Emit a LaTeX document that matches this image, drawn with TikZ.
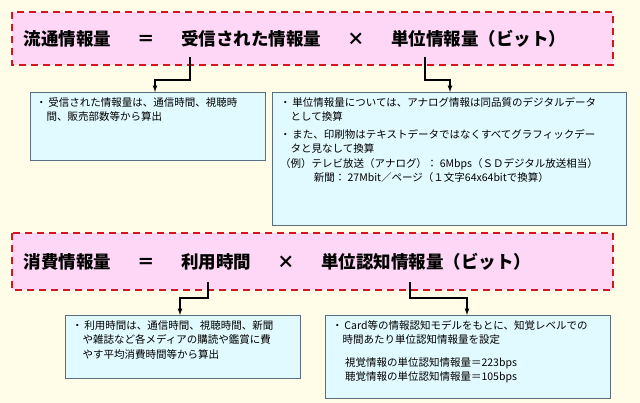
\documentclass[tikz,border=0pt]{standalone}
\usepackage{fontspec}
\newfontfamily\jp{Noto Sans CJK JP}
\definecolor{paper}{RGB}{255,253,232}
\definecolor{formfill}{RGB}{253,215,245}
\definecolor{formline}{RGB}{215,20,30}
\definecolor{notefill}{RGB}{225,250,255}
\definecolor{noteline}{RGB}{90,110,130}
\tikzset{
  formula/.style={draw=formline, fill=formfill, line width=2pt, dash pattern=on 7pt off 5pt},
  note/.style={draw=noteline, fill=notefill, line width=0.7pt},
  ftext/.style={anchor=west, font=\jp\bfseries\fontsize{17.5}{19}\selectfont},
  ntext/.style={anchor=north west, align=left, inner sep=0pt, font=\jp\fontsize{10.5}{14.5}\selectfont},
  link/.style={-latex, line width=1.2pt}
}
\begin{document}
\begin{tikzpicture}[x=1pt, y=-1pt]
  \useasboundingbox (0, 0) rectangle (640, 403);
  \fill[paper] (0, 0) rectangle (640, 403);

  % first formula
  \draw[formula] (12, 12) rectangle (613, 65);
  \node[ftext] (flow) at (20, 39) {流通情報量\quad\enspace ＝\quad\enspace 受信された情報量\quad\enspace ×\quad\enspace 単位情報量（ビット）};
  \draw[note] (30, 92) rectangle (265, 160);
  \node[ntext] (recv) at (36, 97) {・\,受信された情報量は、通信時間、視聴時\\\quad 間、販売部数等から算出};
  \draw[note] (272, 92) rectangle (626, 225);
  \node[ntext] (unit) at (280, 97) {・\,単位情報量については、アナログ情報は同品質のデジタルデータ\\\quad として換算\\[3pt]
    ・\,また、印刷物はテキストデータではなくすべてグラフィックデー\\\quad タと見なして換算\\
    （例）テレビ放送（アナログ）： 6Mbps（ＳＤデジタル放送相当）\\\hspace{3.2em}新聞： 27Mbit／ページ（１文字64x64bitで換算）};
  \coordinate (f1) at (190, 57);
  \coordinate (f2) at (425, 57);
  \draw[link] (f1) |- (155, 80) -- (155, 92);
  \draw[link] (f2) |- (450, 80) -- (450, 92);

  % second formula
  \draw[formula] (12, 233) rectangle (613, 290);
  \node[ftext] (use) at (20, 262) {消費情報量\quad\enspace ＝\quad\enspace 利用時間\quad\enspace ×\quad\enspace 単位認知情報量（ビット）};
  \draw[note] (65, 315) rectangle (300, 378);
  \node[ntext] (time) at (72, 320) {・\,利用時間は、通信時間、視聴時間、新聞\\\quad や雑誌など各メディアの購読や鑑賞に費\\\quad やす平均消費時間等から算出};
  \draw[note] (325, 315) rectangle (610, 398);
  \node[ntext] (card) at (332, 320) {・\,Card等の情報認知モデルをもとに、知覚レベルでの\\\quad 時間あたり単位認知情報量を設定\\[8pt]
    \quad\ 視覚情報の単位認知情報量＝223bps\\\quad\ 聴覚情報の単位認知情報量＝105bps};
  \coordinate (s1) at (208, 282);
  \coordinate (s2) at (410, 282);
  \draw[link] (s1) |- (180, 298) -- (180, 315);
  \draw[link] (s2) |- (467, 298) -- (467, 315);
\end{tikzpicture}
\end{document}
